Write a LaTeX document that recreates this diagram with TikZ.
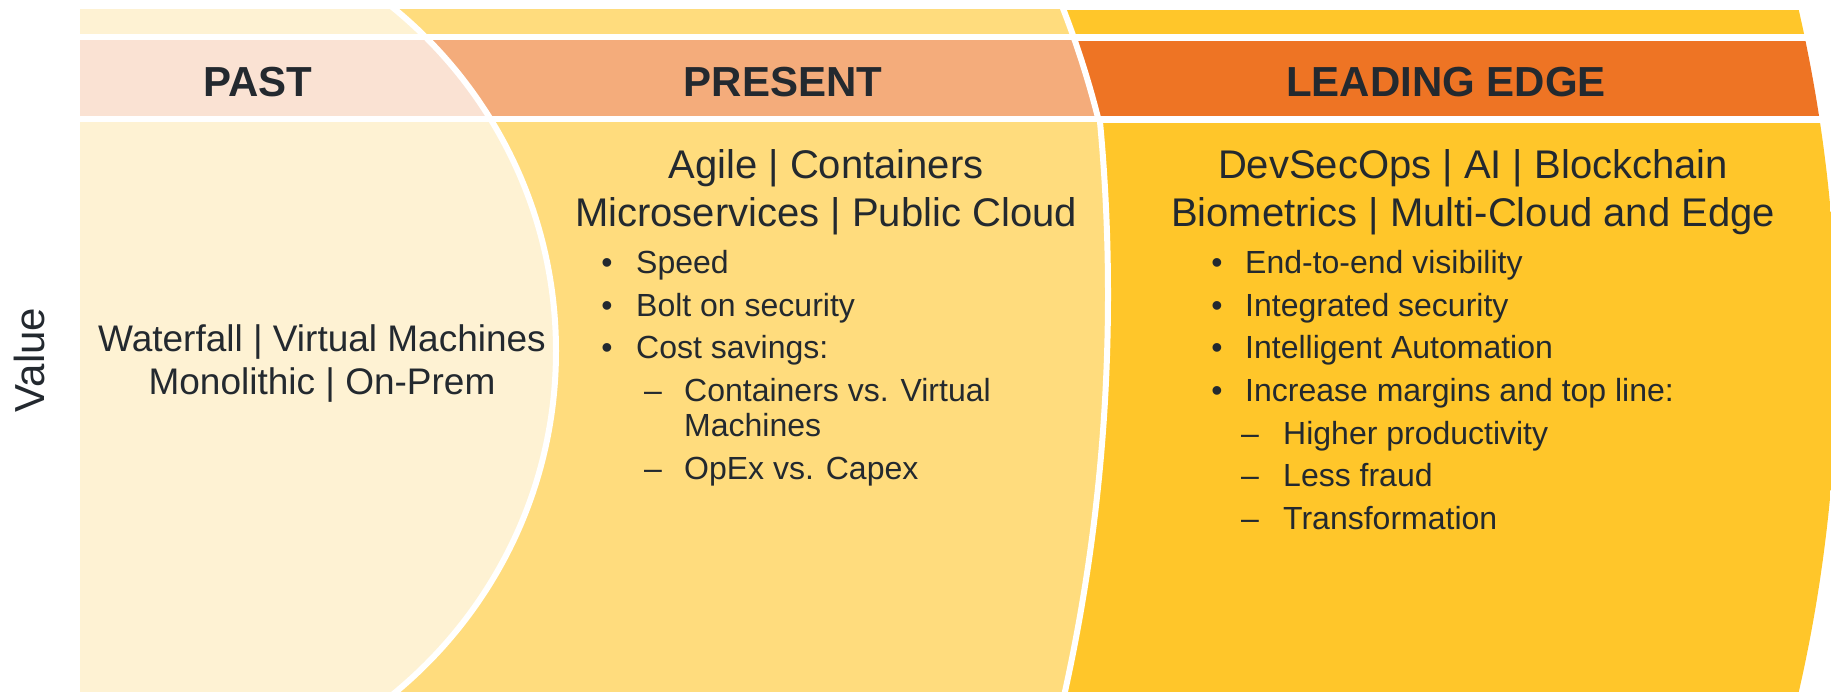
\documentclass[tikz,border=0pt]{standalone}
\usepackage{fontspec}
\setmainfont{Liberation Sans}
\definecolor{pastc}{HTML}{FEF2D3}
\definecolor{pasth}{HTML}{FAE2D3}
\definecolor{presc}{HTML}{FFDC7D}
\definecolor{presh}{HTML}{F4AC7B}
\definecolor{leadc}{HTML}{FFC62A}
\definecolor{leadh}{HTML}{EE7424}
\definecolor{txt}{HTML}{23292F}
\begin{document}
\begin{tikzpicture}[x=1pt,y=-1pt,
  hdr/.style={font=\fontsize{42}{50}\selectfont\bfseries, text=txt, anchor=base, inner sep=0pt},
  ttl/.style={font=\fontsize{40}{48}\selectfont, text=txt, anchor=base, inner sep=0pt},
  pst/.style={font=\fontsize{37}{44}\selectfont, text=txt, anchor=base, inner sep=0pt},
  itm/.style={font=\fontsize{32}{38}\selectfont, text=txt, anchor=base west, inner sep=0pt},
  bul/.style={font=\fontsize{32}{38}\selectfont, text=txt, anchor=base, inner sep=0pt},
  sep/.style={draw=white, line width=6pt}]
\useasboundingbox (0,0) rectangle (1831,692);
% top strip
\begin{scope}
  \clip (80,10) rectangle (1831,34);
  \clip (311,351) circle[radius=1526pt];
  \fill[leadc] (80,10) rectangle (1831,34);
  \fill[presc] (182,351) circle[radius=945pt];
  \fill[pastc] (113,351) circle[radius=443pt];
\end{scope}
% header band
\begin{scope}
  \clip (80,41) rectangle (1831,116);
  \clip (311,351) circle[radius=1526pt];
  \fill[leadh] (80,41) rectangle (1831,116);
  \fill[presh] (182,351) circle[radius=945pt];
  \fill[pasth] (113,351) circle[radius=443pt];
\end{scope}
% body
\begin{scope}
  \clip (80,123) rectangle (1831,692);
  \clip (311,351) circle[radius=1526pt];
  \fill[leadc] (80,123) rectangle (1831,692);
  \fill[presc] (-730,294.5) circle[radius=1838pt];
  \fill[pastc] (113,351) circle[radius=443pt];
\end{scope}
% white separator arcs
\begin{scope}
  \clip (80,0) rectangle (1831,119.5);
  \draw[sep] (182,351) circle[radius=945pt];
\end{scope}
\begin{scope}
  \clip (80,119.5) rectangle (1831,692);
  \draw[sep] (-730,294.5) circle[radius=1838pt];
\end{scope}
\begin{scope}
  \clip (80,0) rectangle (1831,692);
  \draw[sep] (113,351) circle[radius=443pt];
\end{scope}
% headers
\node[hdr] (hpast) at (258,97) {PAST};
\node[hdr] (hpres) at (783,97) {PRESENT};
\node[hdr] (hlead) at (1446,97) {LEADING EDGE};
% value label
\node[font=\fontsize{42}{50}\selectfont, text=txt, rotate=90, inner sep=0pt] (val) at (29,360) {Value};
% past
\node[pst] (p1) at (322,352) {Waterfall | Virtual Machines};
\node[pst] (p2) at (322,395) {Monolithic | On-Prem};
% present
\node[ttl] (t1) at (826,179) {Agile | Containers};
\node[ttl] (t2) at (826,227) {Microservices | Public Cloud};
\node[bul] (b1) at (607,274) {•};
\node[itm] (i1) at (636,274) {Speed};
\node[bul] (b2) at (607,316.5) {•};
\node[itm] (i2) at (636,316.5) {Bolt on security};
\node[bul] (b3) at (607,359) {•};
\node[itm] (i3) at (636,359) {Cost savings:};
\node[bul] (d1) at (653,401.5) {–};
\node[itm] (s1) at (684,401.5) {Containers vs. Virtual};
\node[itm] (s1b) at (684,436.5) {Machines};
\node[bul] (d2) at (653,479) {–};
\node[itm] (s2) at (684,479) {OpEx vs. Capex};
% leading edge
\node[ttl] (l1) at (1473,179) {DevSecOps | AI | Blockchain};
\node[ttl] (l2) at (1473,227) {Biometrics | Multi-Cloud and Edge};
\node[bul] (lb1) at (1217,274) {•};
\node[itm] (li1) at (1245,274) {End-to-end visibility};
\node[bul] (lb2) at (1217,316.5) {•};
\node[itm] (li2) at (1245,316.5) {Integrated security};
\node[bul] (lb3) at (1217,359) {•};
\node[itm] (li3) at (1245,359) {Intelligent Automation};
\node[bul] (lb4) at (1217,401.5) {•};
\node[itm] (li4) at (1245,401.5) {Increase margins and top line:};
\node[bul] (ld1) at (1250,444) {–};
\node[itm] (ls1) at (1283,444) {Higher productivity};
\node[bul] (ld2) at (1250,486.5) {–};
\node[itm] (ls2) at (1283,486.5) {Less fraud};
\node[bul] (ld3) at (1250,529) {–};
\node[itm] (ls3) at (1283,529) {Transformation};
\end{tikzpicture}
\end{document}
